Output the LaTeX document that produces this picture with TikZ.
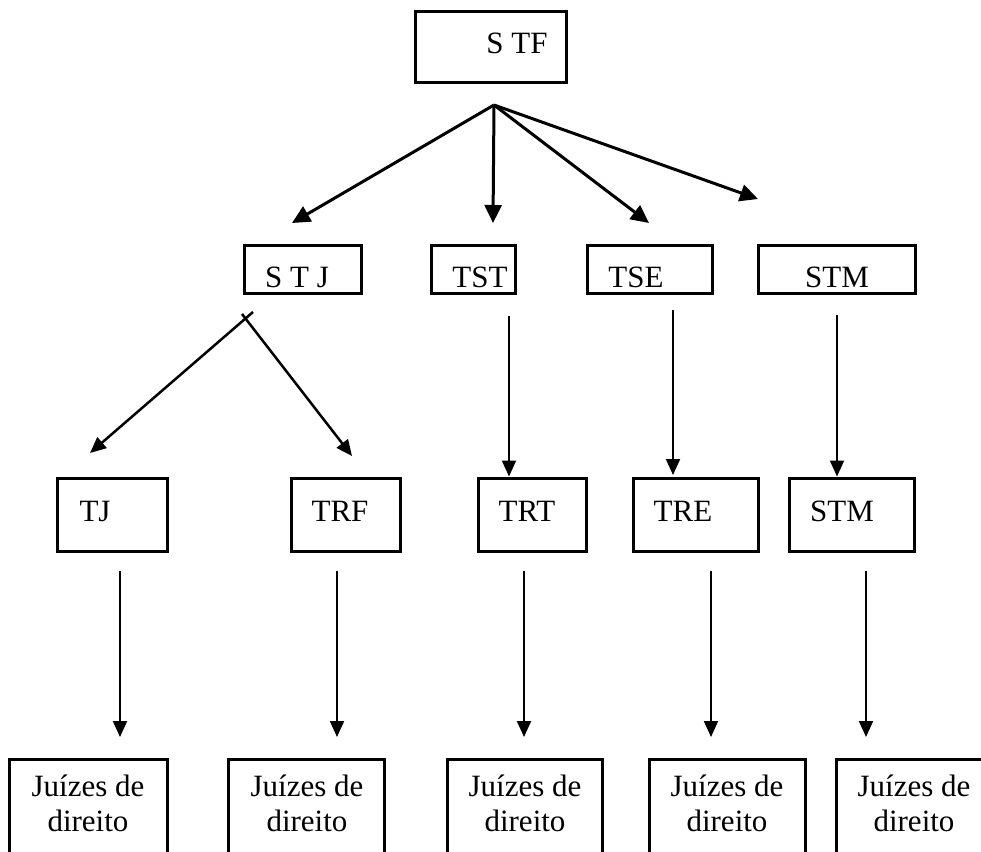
\documentclass[tikz,border=0pt]{standalone}
\usepackage{fontspec}
\setmainfont{Liberation Serif}
\usetikzlibrary{arrows.meta}
\begin{document}
\begin{tikzpicture}[x=1pt,y=-1pt,
  box/.style={draw, line width=3pt, inner sep=0pt},
  lbl/.style={font=\fontsize{31}{35}\selectfont, inner sep=0pt, anchor=base},
  jlbl/.style={font=\fontsize{31}{35}\selectfont, inner sep=0pt, align=center, anchor=north},
  arr/.style={line width=2pt, -{Triangle[length=16pt,width=14pt]}},
  fan/.style={line width=3pt, -{Triangle[length=18pt,width=17pt]}}]
\useasboundingbox (0,0) rectangle (981,851);
\clip (0,0) rectangle (981,851);

% row 1
\node[box, minimum width=151, minimum height=70] (stfbox) at (490.5,47) {};
\node[lbl] (stf) at (517,53) {S TF};

% row 2
\node[box, minimum width=117, minimum height=48] (stjbox) at (302.5,269) {};
\node[lbl] (stj) at (297,287) {S T J};
\node[box, minimum width=84, minimum height=48] (tstbox) at (473,269) {};
\node[lbl] (tst) at (480,287) {TST};
\node[box, minimum width=125, minimum height=48] (tsebox) at (649.5,269) {};
\node[lbl] (tse) at (636,287) {TSE};
\node[box, minimum width=157, minimum height=48] (stmabox) at (836.5,269) {};
\node[lbl] (stma) at (837,287) {STM};

% row 3
\node[box, minimum width=110, minimum height=73] (tjbox) at (112,514.5) {};
\node[lbl] (tj) at (95,521) {TJ};
\node[box, minimum width=109, minimum height=73] (trfbox) at (345.5,514.5) {};
\node[lbl] (trf) at (340,521) {TRF};
\node[box, minimum width=108, minimum height=73] (trtbox) at (532,514.5) {};
\node[lbl] (trt) at (527,521) {TRT};
\node[box, minimum width=125, minimum height=73] (trebox) at (695.5,514.5) {};
\node[lbl] (tre) at (683,521) {TRE};
\node[box, minimum width=125, minimum height=73] (stmbbox) at (851.5,514.5) {};
\node[lbl] (stmb) at (842,521) {STM};

% row 4
\node[box, minimum width=158, minimum height=121] (j1box) at (88,819.5) {};
\node[jlbl] (j1) at (88,775) {Juízes de\\direito};
\node[box, minimum width=156, minimum height=121] (j2box) at (306,819.5) {};
\node[jlbl] (j2) at (307,775) {Juízes de\\direito};
\node[box, minimum width=155, minimum height=121] (j3box) at (524.5,819.5) {};
\node[jlbl] (j3) at (525,775) {Juízes de\\direito};
\node[box, minimum width=156, minimum height=121] (j4box) at (727,819.5) {};
\node[jlbl] (j4) at (727,775) {Juízes de\\direito};
\node[box, minimum width=158, minimum height=121] (j5box) at (915,819.5) {};
\node[jlbl] (j5) at (914,775) {Juízes de\\direito};

% fan from STF
\coordinate (apex) at (494,105);
\coordinate (f1) at (292,223);
\coordinate (f2) at (493,223);
\coordinate (f3) at (649,223);
\coordinate (f4) at (758,199);
\draw[fan] (apex) -- (f1);
\draw[fan] (apex) -- (f2);
\draw[fan] (apex) -- (f3);
\draw[fan] (apex) -- (f4);

% STJ branches
\coordinate (sa) at (253,312);
\coordinate (sb) at (242,314);
\coordinate (ta) at (90,453);
\coordinate (tb) at (352,456);
\draw[arr, line width=2.5pt] (sa) -- (ta);
\draw[arr, line width=2.5pt] (sb) -- (tb);

% vertical arrows row 2 -> row 3
\coordinate (v1) at (509,316);
\coordinate (v2) at (673,310);
\coordinate (v3) at (837,315);
\draw[arr] (v1) -- (v1 |- trtbox.north);
\draw[arr] (v2) -- (673,475);
\draw[arr] (v3) -- (v3 |- stmbbox.north);

% arrows row 3 -> row 4
\foreach \x/\n in {120/1,337/2,524/3,711/4,866/5}{
  \coordinate (b\n) at (\x,571);
  \coordinate (e\n) at (\x,737);
  \draw[arr] (b\n) -- (e\n);
}
\end{tikzpicture}
\end{document}
